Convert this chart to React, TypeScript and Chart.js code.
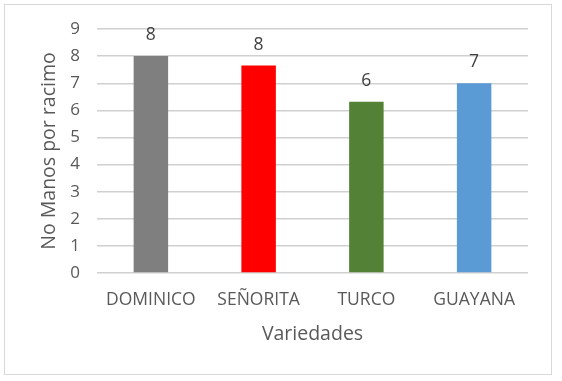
import React, { useEffect, useRef } from "react";
import { Chart, registerables } from "chart.js";

Chart.register(...registerables);

const categories = ["DOMINICO", "SEÑORITA", "TURCO", "GUAYANA"];
const values = [8.0, 7.65, 6.32, 7.0];
const barColors = ["#7f7f7f", "#ff0000", "#538135", "#5b9bd5"];
const yTicks = [0, 1, 2, 3, 4, 5, 6, 7, 8, 9];
const yTitle = "No Manos por racimo";
const xTitle = "Variedades";

const FONT = "'Open Sans', 'Liberation Sans', sans-serif";
const TEXT = "#595959";

const valueLabels = {
  id: "valueLabels",
  afterDatasetsDraw(chart: any) {
    const ctx = chart.ctx;
    const meta = chart.getDatasetMeta(0);
    ctx.save();
    ctx.font = `17.5px ${FONT}`;
    ctx.fillStyle = "#404040";
    ctx.textAlign = "center";
    ctx.textBaseline = "middle";
    meta.data.forEach((bar: any, i: number) => {
      ctx.fillText(String(Math.round(values[i])), bar.x, bar.y - 21);
    });
    ctx.restore();
  },
};

export default function App() {
  const ref = useRef<HTMLCanvasElement>(null);
  useEffect(() => {
    if (!ref.current) return;
    const chart = new Chart(ref.current, {
      type: "bar",
      data: {
        labels: categories,
        datasets: [
          {
            data: values,
            backgroundColor: barColors,
            borderWidth: 0,
            barPercentage: 0.32,
            categoryPercentage: 1,
          },
        ],
      },
      options: {
        animation: false,
        responsive: false,
        maintainAspectRatio: false,
        layout: { padding: { left: 0, right: 34, top: 29, bottom: 0 } },
        plugins: { legend: { display: false }, tooltip: { enabled: false } },
        scales: {
          x: {
            grid: { display: false, drawTicks: false },
            border: { display: false },
            ticks: {
              color: TEXT,
              font: { family: FONT, size: 17.5 },
              padding: 17,
              maxRotation: 0,
              autoSkip: false,
            },
            title: {
              display: true,
              text: xTitle,
              color: TEXT,
              font: { family: FONT, size: 19.5 },
              padding: { top: 0, bottom: 35 },
            },
            afterFit(scale: any) {
              scale.height = 381 - 273;
            },
          },
          y: {
            min: 0,
            max: 9,
            afterBuildTicks(scale: any) {
              scale.ticks = yTicks.map((v) => ({ value: v }));
            },
            grid: { color: "#d0d0d0", lineWidth: 1.4, drawTicks: false },
            border: { display: false },
            ticks: {
              color: TEXT,
              font: { family: FONT, size: 17 },
              padding: 17,
            },
            title: {
              display: true,
              text: yTitle,
              color: TEXT,
              font: { family: FONT, size: 19.5 },
              padding: { top: 38, bottom: 0 },
            },
            afterFit(scale: any) {
              scale.width = 97;
            },
          },
        },
      },
      plugins: [valueLabels],
    });
    return () => chart.destroy();
  }, []);

  return (
    <div
      style={{
        position: "fixed",
        left: 0,
        top: 0,
        width: 562,
        height: 381,
        background: "#ffffff",
      }}
    >
      <div
        style={{
          position: "absolute",
          left: 4,
          top: 4,
          width: 548,
          height: 371,
          border: "1px solid #d9d9d9",
          boxSizing: "border-box",
        }}
      />
      <canvas
        ref={ref}
        width={562}
        height={381}
        style={{ position: "absolute", left: 0, top: 0, width: 562, height: 381 }}
      />
    </div>
  );
}
